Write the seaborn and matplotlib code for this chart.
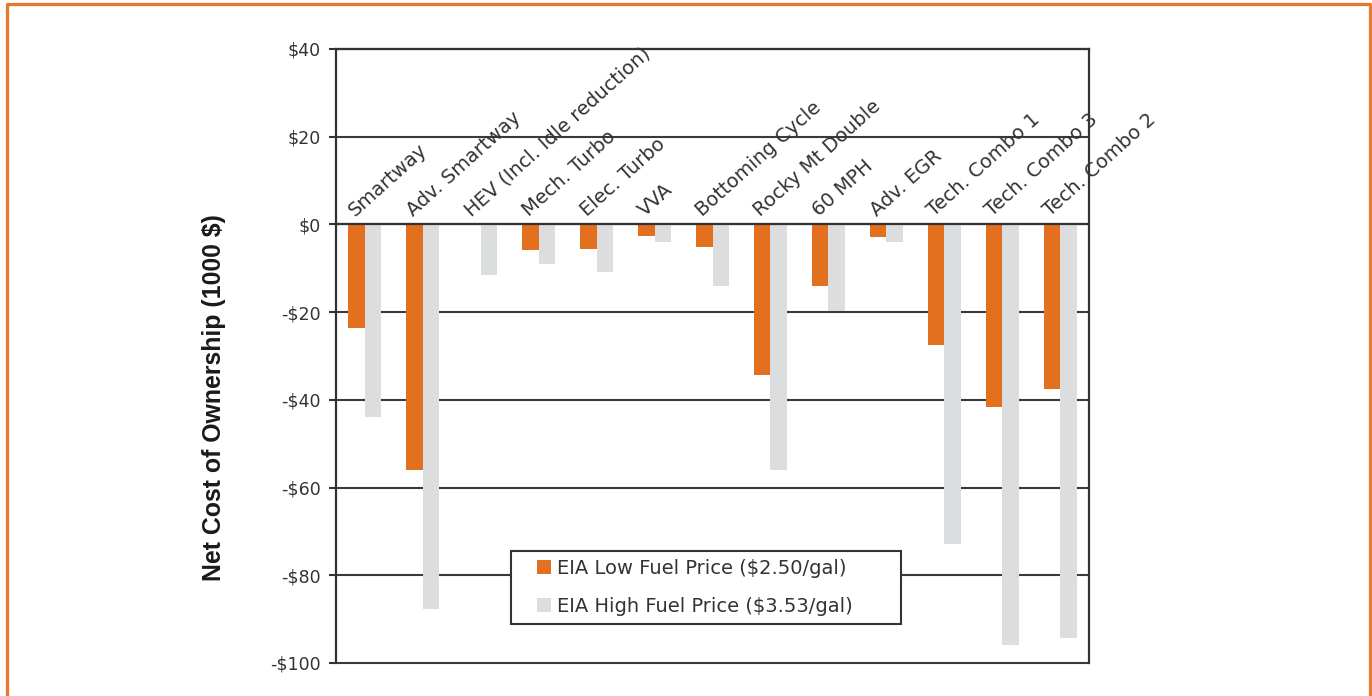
import numpy as np
import pandas as pd
import matplotlib
matplotlib.use("Agg")
import matplotlib.pyplot as plt
import seaborn as sns
from matplotlib.lines import Line2D
from matplotlib.patches import Rectangle
from matplotlib.legend_handler import HandlerPatch

# ---- data (net cost of ownership, thousands of dollars) ----
technologies = [
    "Smartway", "Adv. Smartway", "HEV (Incl. Idle reduction)", "Mech. Turbo",
    "Elec. Turbo", "VVA", "Bottoming Cycle", "Rocky Mt Double", "60 MPH",
    "Adv. EGR", "Tech. Combo 1", "Tech. Combo 3", "Tech. Combo 2",
]
low_fuel = [-23.7, -56.1, 0.0, -5.9, -5.6, -2.7, -5.2, -34.4, -14.1, -2.9, -27.6, -41.7, -37.6]
high_fuel = [-44.0, -87.7, -11.6, -9.0, -10.9, -4.0, -14.1, -56.1, -19.8, -4.0, -72.8, -96.0, -94.2]
scenarios = ["EIA Low Fuel Price ($2.50/gal)", "EIA High Fuel Price ($3.53/gal)"]
y_ticks = [-100, -80, -60, -40, -20, 0, 20, 40]

ORANGE = "#E3701E"
GRAY = "#DCDDDF"
INK = "#333333"

df = pd.DataFrame({
    "Technology": technologies * 2,
    "Cost": low_fuel + high_fuel,
    "Scenario": [scenarios[0]] * len(technologies) + [scenarios[1]] * len(technologies),
})

sns.set_style("white")
plt.rcParams["font.family"] = ["DejaVu Sans"]

fig = plt.figure(figsize=(13.72, 6.96), dpi=100)
ax = fig.add_axes([336 / 1372, 1 - 663 / 696, (1089 - 336) / 1372, (663 - 49) / 696])

sns.barplot(
    data=df, x="Technology", y="Cost", hue="Scenario", order=technologies,
    hue_order=scenarios, palette=[ORANGE, GRAY], saturation=1, width=0.57,
    errorbar=None, linewidth=0, ax=ax,
)

ax.set_xlim(-0.5, len(technologies) - 0.5)
ax.set_ylim(min(y_ticks), max(y_ticks))
ax.set_yticks(y_ticks)
ax.set_yticklabels([f"-${abs(v)}" if v < 0 else f"${v}" for v in y_ticks],
                   fontsize=12.5, color=INK)
ax.set_xlabel("")
ax.set_ylabel("")

# horizontal grid, including the outer frame lines
ax.yaxis.grid(True, color="#3a3a3a", linewidth=1.5)
ax.set_axisbelow(True)
for gl in ax.get_ygridlines():
    gl.set_clip_on(False)

# category axis sits on the zero line with separators between groups
ax.spines["bottom"].set_position(("data", 0))
for side in ["bottom", "left", "right", "top"]:
    ax.spines[side].set_color(INK)
    ax.spines[side].set_linewidth(1.6)
ax.set_xticks(range(len(technologies)))
ax.set_xticks(np.arange(-0.5, len(technologies), 1.0), minor=True)
ax.tick_params(axis="x", which="major", length=0, labelbottom=False)
ax.tick_params(axis="x", which="minor", length=5.5, width=1.5, color=INK, direction="out")
ax.tick_params(axis="y", which="major", length=5, width=1.5, color=INK, pad=6, left=True)

for i, name in enumerate(technologies):
    ax.annotate(name, xy=(i, 0), xytext=(-7, 5.5), textcoords="offset points",
                rotation=42, rotation_mode="anchor", ha="left", va="baseline",
                fontsize=14, color=INK, annotation_clip=False)

# legend with square swatches set toward the text
def right_square(legend, orig_handle, xdescent, ydescent, width, height, fontsize):
    return Rectangle((width - height - xdescent, -ydescent), height, height)

handles, labels = ax.get_legend_handles_labels()
if ax.get_legend() is not None:
    ax.get_legend().remove()
leg = ax.legend(
    handles, labels, loc="lower left",
    bbox_to_anchor=((511 - 336) / 753, (663 - 624) / 614, (901 - 511) / 753, 0.1),
    mode="expand", borderaxespad=0, fontsize=14, frameon=True, fancybox=False,
    framealpha=1, edgecolor=INK, borderpad=0.42, labelspacing=0.96,
    handlelength=1.64, handleheight=0.72, handletextpad=0.3,
    handler_map={Rectangle: HandlerPatch(patch_func=right_square)},
)
leg.get_frame().set_linewidth(1.5)
for t in leg.get_texts():
    t.set_color(INK)

fig.text(214.5 / 1372, 1 - 398 / 696, "Net Cost of Ownership (1000 $)",
         rotation=90, ha="center", va="center", fontsize=17.9,
         fontweight="bold", family=["Liberation Sans", "DejaVu Sans"], color="#1a1a1a")

# orange page frame
frame_color = "#E8792A"
fig.add_artist(Line2D([7 / 1372, 7 / 1372, 1369.5 / 1372, 1369.5 / 1372],
                      [0, 1 - 4 / 696, 1 - 4 / 696, 0],
                      transform=fig.transFigure, color=frame_color, linewidth=2.3))

fig.savefig("out.png", dpi=100, facecolor="white")
